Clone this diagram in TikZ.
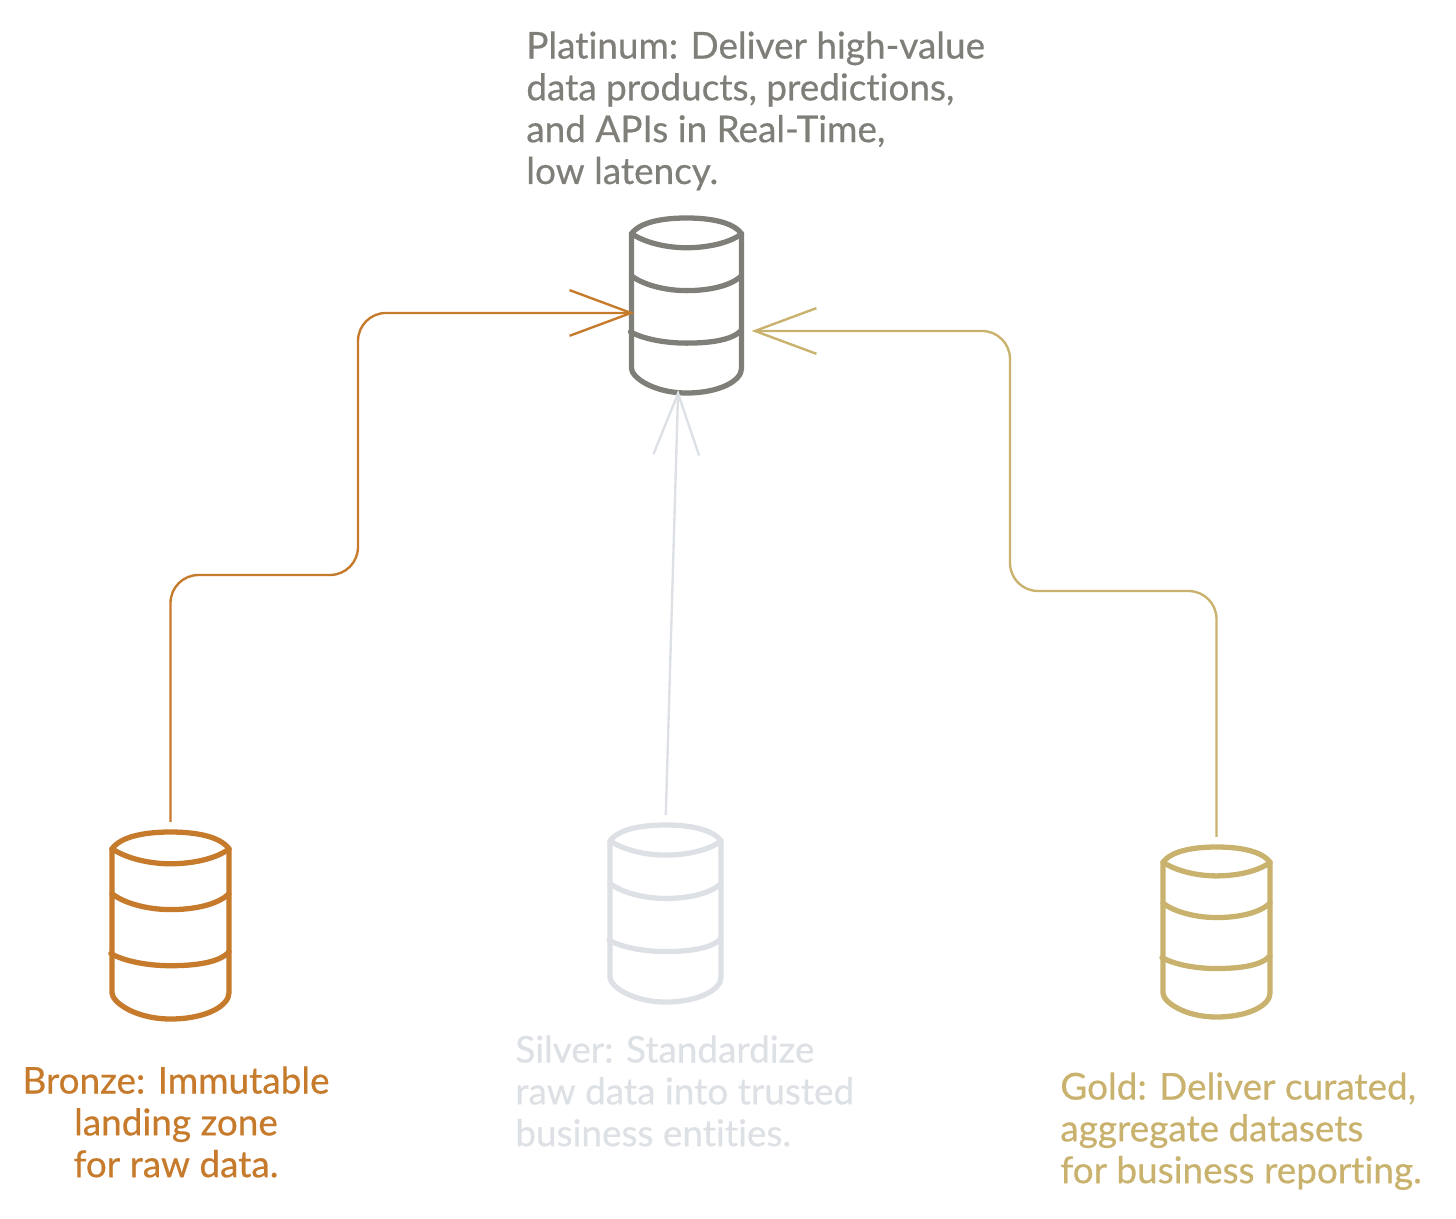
\documentclass[tikz,border=0pt]{standalone}
\usepackage{fontspec}
\usetikzlibrary{arrows.meta}
\setmainfont[RawFeature={embolden=0.5;-liga}]{Lato}
\definecolor{bronzecol}{HTML}{C67A2B}
\definecolor{silvercol}{HTML}{DDE0E4}
\definecolor{goldcol}{HTML}{C9B26D}
\definecolor{platcol}{HTML}{7F7E78}
\tikzset{
    dbbody/.style={inner sep=0pt, outer sep=0pt},
    dbline/.style={line width=3pt, line cap=round, line join=round},
    link/.style={line width=1.35pt, rounded corners=0.56cm, -{Straight Barb[length=35pt, width=26pt]}, shorten <=5.7pt, shorten >=-1.7pt},
    note/.style={inner sep=0pt, font=\fontsize{21}{23.8}\selectfont},
}
\newcommand{\dbcyl}[6]{
    \node[dbbody, minimum width={#4*0.02cm}, minimum height={#5*0.02cm}] (#1) at (#2,#3+#5/2) {};
    \begin{scope}[shift={(#2,#3)}, xscale=#4/100, yscale=#5/100, dbline, draw=#6]
        \draw (-50,9) .. controls (-42,2) and (-20,0) .. (0,0) .. controls (20,0) and (42,2) .. (50,9);
        \draw (-50,9) .. controls (-35,15) and (-15,17) .. (0,17) .. controls (20,17) and (40,14) .. (50,9);
        \draw (-50,33) .. controls (-40,38) and (-20,41.5) .. (0,41.5) .. controls (20,41.5) and (40,39) .. (50,33);
        \draw (-51,65) .. controls (-40,69) and (-20,71.5) .. (0,71.5) .. controls (20,71.5) and (42,70) .. (50,64);
        \draw (-50,9) -- (-50,86) .. controls (-50,91) and (-30,100) .. (0,100) .. controls (30,100) and (50,93) .. (50,86) -- (50,9);
    \end{scope}
}
\begin{document}
\begin{tikzpicture}[x=0.02cm, y=-0.02cm]
    \useasboundingbox (0,0) rectangle (1456,1219);
    \dbcyl{platinum}{686.5}{218}{110}{175}{platcol}
    \dbcyl{bronze}{170.5}{832}{117}{187}{bronzecol}
    \dbcyl{silver}{665.5}{825}{111}{177}{silvercol}
    \dbcyl{gold}{1216.5}{847}{107}{170}{goldcol}
    \coordinate (bronzemid) at (358,575);
    \coordinate (goldmid) at (1010,591);
    \draw[link, draw=bronzecol] (bronze.north) |- (bronzemid) |- ([yshift=-4.25pt]platinum.west);
    \draw[link, draw=silvercol] (silver.north) -- ([xshift=-4.8pt]platinum.south);
    \draw[link, draw=goldcol, shorten >=5.7pt] (gold.north) |- (goldmid) |- ([yshift=-14.5pt]platinum.east);
    \node[note, text=platcol, align=left, anchor=north west] (platinumtext) at (526,31) {Platinum: Deliver high-value\\data products, predictions,\\and APIs in Real-Time,\\low latency.};
    \node[note, text=bronzecol, align=center, anchor=north] (bronzetext) at (176,1066) {Bronze: Immutable\\landing zone\\for raw data.};
    \node[note, text=silvercol, align=left, anchor=north west] (silvertext) at (515,1035) {Silver: Standardize\\raw data into trusted\\business entities.};
    \node[note, text=goldcol, align=left, anchor=north west] (goldtext) at (1060,1072) {Gold: Deliver curated,\\aggregate datasets\\for business reporting.};
\end{tikzpicture}
\end{document}
